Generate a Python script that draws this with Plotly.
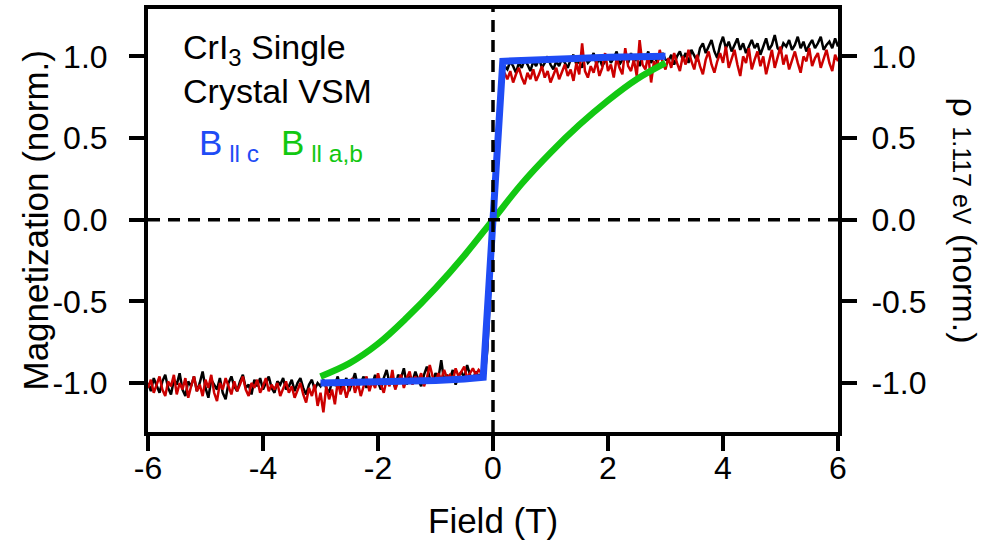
import numpy as np
import plotly.graph_objects as go

# Field sweep grid (T) shared by the two VSM runs
field = np.round(np.arange(-6.0, 6.0001, 0.05), 2)

# VSM magnetization, sweep 1 (black)
mag_black = [
    -1.00, -1.05, -0.97, -1.02, -1.06, -0.99, -0.95, -1.03, -1.07, -0.98,
    -1.01, -0.94, -1.04, -1.08, -0.99, -1.02, -0.96, -1.05, -1.00, -0.93,
    -1.03, -1.09, -0.98, -1.01, -1.04, -0.97, -1.06, -1.10, -1.00, -0.96,
    -1.02, -1.05, -0.99, -0.95, -1.03, -1.01, -1.07, -0.98, -1.02, -0.97,
    -1.04, -1.00, -0.96, -1.03, -1.06, -0.99, -1.01, -0.97, -1.04, -1.02,
    -0.98, -1.05, -1.00, -0.97, -1.03, -1.07, -1.01, -0.98, -1.04, -1.00,
    -1.02, -0.98, -1.03, -1.06, -0.99, -1.01, -0.96, -1.04, -1.00, -0.97,
    -1.05, -0.99, -0.94, -1.02, -1.00, -0.96, -1.03, -0.98, -1.01, -0.95,
    -0.99, -1.04, -0.97, -0.92, -1.00, -0.98, -1.03, -0.95, -0.97, -0.91,
    -1.01, -0.96, -0.99, -0.93, -0.98, -1.02, -0.95, -0.90, -0.97, -1.00,
    -0.94, -0.97, -0.86, -0.99, -0.95, -0.98, -0.92, -1.01, -0.96, -0.93,
    -0.97, -0.89, -0.95, -0.98, -0.93, -0.96, -0.94,
    -0.97, -0.80, -0.45, -0.10, 0.28, 0.62, 0.88, 0.94,
    0.92, 0.97, 0.94, 0.90, 0.96, 0.93, 0.98, 0.95, 0.91, 0.97,
    0.94, 0.99, 0.93, 0.96, 1.00, 0.95, 0.92, 0.97, 0.94, 0.99,
    0.96, 0.93, 0.98, 1.01, 0.95, 0.97, 0.93, 1.00, 0.96, 0.98,
    1.02, 0.95, 0.99, 0.94, 0.97, 1.01, 0.96, 0.99, 1.03, 0.95,
    0.98, 1.00, 0.96, 1.02, 0.97, 0.99, 0.94, 1.01, 0.98, 1.03,
    0.96, 1.00, 0.97, 0.99, 1.02, 0.98,
    0.97, 1.01, 0.95, 1.00, 1.03, 0.98, 1.02, 0.96, 1.04, 1.00,
    0.97, 1.05, 1.08, 1.02, 1.06, 1.10, 1.03, 0.99, 1.07, 1.12,
    1.05, 1.09, 1.03, 1.07, 1.11, 1.04, 1.08, 1.02, 1.06, 1.10,
    1.05, 1.08, 1.01, 1.06, 1.11, 1.04, 1.07, 1.13, 1.05, 1.03,
    1.08, 1.06, 1.10, 1.04, 1.07, 1.12, 1.05, 1.09, 1.03, 1.07,
    1.10, 1.05, 1.08, 1.12, 1.04, 1.07, 1.09, 1.05, 1.11, 1.06,
]

# VSM magnetization, sweep 2 (red)
mag_red = [
    -1.03, -0.98, -1.06, -1.01, -0.96, -1.04, -1.08, -0.99, -1.02, -0.95,
    -1.07, -1.00, -1.04, -0.97, -1.09, -1.02, -0.96, -1.05, -1.01, -1.08,
    -0.98, -1.03, -0.95, -1.06, -1.11, -1.00, -1.04, -0.97, -1.02, -1.07,
    -0.99, -1.05, -1.01, -0.96, -1.04, -1.08, -1.00, -1.03, -0.98, -1.06,
    -1.02, -0.97, -1.05, -1.01, -1.04, -1.00, -1.08, -1.03, -0.99, -1.06,
    -1.02, -1.09, -1.04, -1.00, -1.07, -1.12, -1.03, -1.08, -1.01, -1.14,
    -1.06, -1.18, -1.02, -1.10, -1.04, -1.13, -0.99, -1.07, -1.01, -1.09,
    -1.03, -0.97, -1.06, -1.00, -1.08, -1.02, -0.96, -1.05, -0.99, -1.03,
    -0.94, -1.01, -1.06, -0.98, -1.02, -0.92, -1.04, -0.99, -0.95, -1.03,
    -0.97, -0.93, -1.01, -0.96, -0.99, -0.94, -1.02, -0.97, -0.89, -0.96,
    -1.00, -0.94, -0.98, -0.92, -0.97, -0.95, -0.99, -0.91, -0.96, -0.93,
    -0.90, -0.97, -0.94, -0.91, -0.95, -0.92, -0.94,
    -0.93, -0.75, -0.42, -0.05, 0.32, 0.66, 0.86, 0.90,
    0.86, 0.91, 0.84, 0.89, 0.93, 0.87, 0.83, 0.90, 0.86, 0.92,
    0.85, 0.89, 0.94, 0.87, 0.91, 0.84, 0.88, 0.93, 0.86, 0.90,
    0.95, 0.88, 0.92, 0.85, 0.96, 0.89, 1.08, 0.91, 0.87, 0.94,
    0.90, 0.97, 0.88, 0.93, 1.02, 0.91, 0.95, 0.87, 0.99, 0.93,
    0.89, 1.05, 0.94, 0.91, 0.98, 0.88, 1.10, 0.95, 0.92, 1.01,
    0.84, 0.97, 0.93, 1.04, 0.96, 0.92,
    0.99, 0.93, 1.02, 0.96, 0.91, 1.00, 0.95, 1.04, 0.97, 0.92,
    1.01, 0.94, 0.89, 0.98, 1.03, 0.95, 0.90, 0.97, 1.02, 0.96,
    1.06, 0.93, 0.99, 1.04, 0.95, 0.88, 1.00, 0.96, 1.05, 0.92,
    0.98, 1.03, 0.94, 1.00, 0.89, 0.97, 1.04, 0.93, 0.99, 1.06,
    0.95, 1.01, 0.92, 0.98, 1.03, 0.96, 0.90, 1.00, 0.97, 1.05,
    0.94, 0.99, 1.02, 0.93, 0.98, 1.04, 0.96, 0.91, 1.01, 0.97,
]

# Optical signal, field along c (blue)
field_c = [-3.0, -2.0, -1.0, -0.5, -0.17, 0.17, 0.5, 1.0, 2.0, 3.0]
rho_c = [-1.0, -0.995, -0.985, -0.975, -0.965, 0.97, 0.975, 0.985, 0.995, 1.0]

# Optical signal, field in the a,b plane (green)
field_ab = [-3.0, -2.5, -2.0, -1.5, -1.0, -0.5, 0.0, 0.5, 1.0, 1.5, 2.0, 2.5, 3.0]
rho_ab = [-0.96, -0.88, -0.76, -0.60, -0.42, -0.22, 0.0, 0.22, 0.41, 0.58, 0.73, 0.86, 0.96]

x_ticks = [-6, -4, -2, 0, 2, 4, 6]
y_ticks = [-1.0, -0.5, 0.0, 0.5, 1.0]
y_range = [-1.30, 1.29]

FONT = "Liberation Sans, Arial, Helvetica, sans-serif"
BLUE = "#1f4cf5"
GREEN = "#12c812"
TICK_SIZE = 32
TITLE_SIZE = 35

fig = go.Figure()
fig.add_trace(go.Scatter(x=field, y=mag_black, mode="lines",
                         line=dict(color="black", width=2.5)))
fig.add_trace(go.Scatter(x=field, y=mag_red, mode="lines",
                         line=dict(color="#cc0000", width=2.5)))
fig.add_trace(go.Scatter(x=field_ab, y=rho_ab, mode="lines",
                         line=dict(color=GREEN, width=6.5, shape="spline")))
fig.add_trace(go.Scatter(x=field_c, y=rho_c, mode="lines",
                         line=dict(color=BLUE, width=7)))
# invisible trace to carry the right-hand axis
fig.add_trace(go.Scatter(x=[0], y=[0], yaxis="y2", mode="markers",
                         marker=dict(opacity=0), hoverinfo="skip"))

axis_common = dict(showline=True, linecolor="black", linewidth=4,
                   ticks="outside", ticklen=15, tickwidth=4, tickcolor="black",
                   showgrid=False, zeroline=False,
                   tickfont=dict(family=FONT, size=TICK_SIZE, color="black"))

y_text = ["%.1f" % v for v in y_ticks]

fig.update_layout(
    width=992, height=543,
    margin=dict(l=148, r=154, t=5, b=111),
    plot_bgcolor="white", paper_bgcolor="white",
    showlegend=False,
    xaxis=dict(range=[-6, 6], tickvals=x_ticks, ticktext=[str(v) for v in x_ticks],
               mirror=True, ticklabelstandoff=-10, **axis_common),
    yaxis=dict(range=y_range, tickvals=y_ticks, ticktext=y_text,
               ticklabelstandoff=15, **axis_common),
    yaxis2=dict(range=y_range, tickvals=y_ticks, ticktext=y_text,
                overlaying="y", side="right", ticklabelstandoff=8, **axis_common),
)

# dashed zero lines
fig.add_shape(type="line", xref="x", yref="paper", x0=0, x1=0, y0=0, y1=1,
              line=dict(color="black", width=3.5, dash="12px,8px"))
fig.add_shape(type="line", xref="paper", yref="y", x0=0, x1=1, y0=0, y1=0,
              line=dict(color="black", width=3.5, dash="12px,8px"))

# axis titles
fig.add_annotation(x=0.5, y=0, xref="paper", yref="paper", yanchor="middle",
                   yshift=-88, showarrow=False, text="Field (T)",
                   font=dict(family=FONT, size=TITLE_SIZE, color="black"))
fig.add_annotation(x=0, y=0.5, xref="paper", yref="paper", xanchor="center",
                   xshift=-113, textangle=-90, showarrow=False,
                   text="Magnetization (norm.)",
                   font=dict(family=FONT, size=TITLE_SIZE, color="black"))
fig.add_annotation(x=1.0, y=0.5, xref="paper", yref="paper", xanchor="center",
                   xshift=127, textangle=90, showarrow=False,
                   text="ρ <span style='font-size:25px'>1.117 eV</span> (norm.)",
                   font=dict(family=FONT, size=34, color="black"))

# sample label and field-direction key
fig.add_annotation(x=-5.42, y=0.925, xref="x", yref="y", xanchor="left", yanchor="middle",
                   text="CrI<sub>3</sub> Single<br>Crystal VSM", showarrow=False,
                   align="left", font=dict(family=FONT, size=34, color="black"))
fig.add_annotation(x=-5.15, y=0.455, xref="x", yref="y", xanchor="left", yanchor="middle",
                   text="B<sub> ll c</sub>", showarrow=False,
                   font=dict(family=FONT, size=35, color=BLUE))
fig.add_annotation(x=-3.72, y=0.455, xref="x", yref="y", xanchor="left", yanchor="middle",
                   text="B<sub> ll a,b</sub>", showarrow=False,
                   font=dict(family=FONT, size=35, color=GREEN))

fig.write_html("out.html")
